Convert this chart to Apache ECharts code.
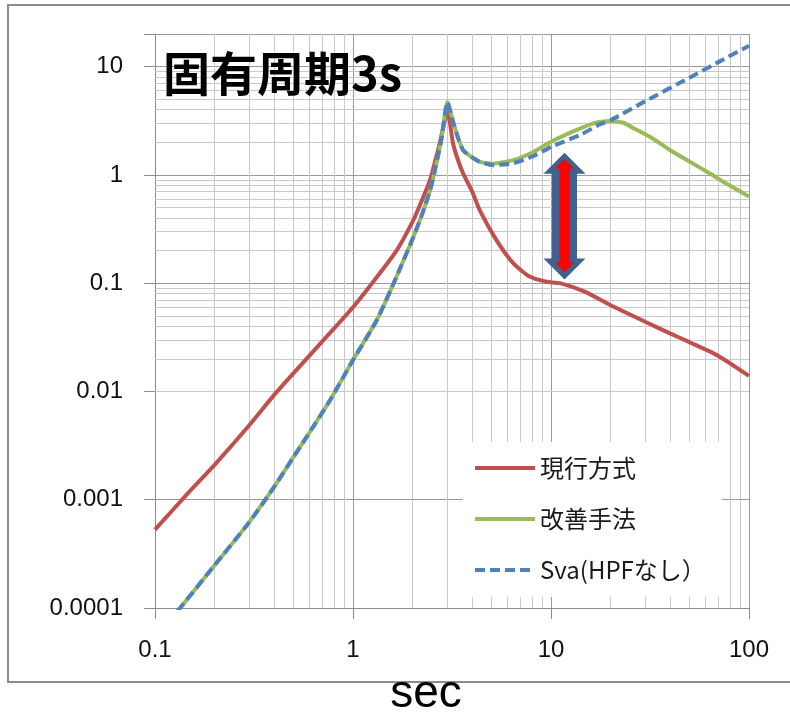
<!DOCTYPE html>
<html>
<head>
<meta charset="utf-8">
<script src="https://cdn.jsdelivr.net/npm/echarts@6/dist/echarts.min.js"></script>
<style>html,body{margin:0;padding:0;background:#fff;}#c{width:790px;height:712px;}</style>
</head>
<body>
<div id="c"></div>
<script>
// ---- data ----
const xTickLabels = ['0.1', '1', '10', '100'];
const yTickLabels = ['0.0001', '0.001', '0.01', '0.1', '1', '10'];
const seriesNames = ['現行方式', '改善手法', 'Sva(HPFなし）'];

const xRed = [0.1, 0.15, 0.2, 0.3, 0.4, 0.5, 0.7, 1, 1.3, 1.66, 2, 2.2, 2.45, 2.7, 2.85, 3.0, 3.2, 3.4, 3.6, 4.0, 4.37, 5.3, 6.46, 7.8, 9.5, 11.1, 14.9, 19.9, 29.9, 39.9, 49.4, 68.7, 100];
const yRed = [5.3e-4, 1.2e-3, 2.1e-3, 4.9e-3, 9.3e-3, 0.0147, 0.029, 0.06, 0.11, 0.2, 0.37, 0.55, 0.9, 1.75, 2.7, 3.9, 1.95, 1.35, 1.03, 0.7, 0.47, 0.25, 0.152, 0.115, 0.103, 0.1, 0.083, 0.0628, 0.044, 0.0344, 0.0288, 0.0217, 0.0139];

const xGreen = [0.13, 0.134, 0.197, 0.296, 0.395, 0.5, 0.583, 0.766, 1, 1.32, 1.66, 2.02, 2.25, 2.45, 2.55, 2.8, 3.0, 3.2, 3.4, 3.6, 4.0, 4.37, 5.1, 6.46, 8, 10, 13.5, 17, 20, 23.2, 25, 31.6, 40, 50.3, 63.5, 74, 100];
const yGreen = [9.3e-5, 1e-4, 2.4e-4, 6.05e-4, 1.27e-3, 2.47e-3, 3.8e-3, 8.3e-3, 0.0195, 0.0457, 0.115, 0.268, 0.45, 0.72, 0.96, 2.17, 4.7, 3.1, 2.17, 1.69, 1.45, 1.32, 1.27, 1.37, 1.6, 2.02, 2.6, 3.05, 3.15, 3.03, 2.82, 2.25, 1.69, 1.32, 1.03, 0.865, 0.63];

const xBlue = [0.13, 0.134, 0.197, 0.296, 0.395, 0.5, 0.583, 0.766, 1, 1.32, 1.66, 2.02, 2.25, 2.45, 2.55, 2.8, 3.0, 3.2, 3.4, 3.6, 4.0, 4.37, 5.1, 6.46, 8, 9.5, 10, 14, 17.7, 20, 30, 50, 70, 100];
const yBlue = [9.3e-5, 1e-4, 2.4e-4, 6.05e-4, 1.27e-3, 2.47e-3, 3.8e-3, 8.3e-3, 0.0195, 0.0457, 0.115, 0.268, 0.45, 0.72, 0.96, 2.17, 4.7, 3.1, 2.17, 1.69, 1.45, 1.32, 1.23, 1.28, 1.47, 1.72, 1.82, 2.33, 2.94, 3.2, 4.8, 7.9, 11, 15.6];

// double arrow annotation: [x, top y, bottom y]
const arrowData = [[11.7, 1.6, 0.108]];

const xDecades = [0.1, 1, 10];
const yDecades = [0.0001, 0.001, 0.01, 0.1, 1];

// ---- build ----
function pairs(xs, ys) { return xs.map((x, i) => [x, ys[i]]); }
function minors(decades) {
  const out = [];
  decades.forEach(d => { for (let k = 2; k <= 9; k++) out.push(+(d * k).toPrecision(6)); });
  return out;
}
const minorLines = minors(xDecades).map(v => ({ xAxis: v }))
  .concat(minors(yDecades).map(v => ({ yAxis: v })));

function fmtFrom(labels, minExp) {
  return function (v) {
    const l = Math.log10(v);
    const e = Math.round(l);
    if (Math.abs(l - e) > 1e-6) return '';
    return labels[e - minExp] || '';
  };
}

const chart = echarts.init(document.getElementById('c'), null, { renderer: 'canvas' });
const labelFont = '"Liberation Sans", Arial, sans-serif';
const jpFont = '"Noto Sans CJK JP", sans-serif';

chart.setOption({
  animation: false,
  backgroundColor: '#fff',
  title: {
    text: '固有周期3s', left: 163, top: 50, padding: 0,
    textStyle: { fontSize: 47, fontWeight: 'bold', fontFamily: jpFont, color: '#000' }
  },
  graphic: [
    { type: 'rect', z: -10, silent: true, shape: { x: 8, y: 5, width: 900, height: 677 },
      style: { fill: 'none', stroke: '#8c8c8c', lineWidth: 2 } },
    { type: 'text', x: 426, y: 694, silent: true,
      style: { text: 'sec', font: '46px "Liberation Sans", Arial, sans-serif', fill: '#000', align: 'center', verticalAlign: 'middle' } }
  ],
  grid: { left: 155, right: 41, top: 34, bottom: 104 },
  legend: {
    data: seriesNames, orient: 'vertical', left: 463, top: 442,
    backgroundColor: '#fff', padding: [12, 16, 13, 10],
    itemWidth: 60, itemHeight: 14, itemGap: 23,
    itemStyle: { opacity: 0 },
    lineStyle: { width: 4 },
    textStyle: { fontSize: 24, fontFamily: jpFont, color: '#1a1a1a', lineHeight: 28 }
  },
  xAxis: {
    type: 'log', logBase: 10, min: 0.1, max: 100,
    axisLine: { show: true, lineStyle: { color: '#8c8c8c', width: 1 } },
    axisTick: { show: true, length: 11, lineStyle: { color: '#8c8c8c' } },
    axisLabel: { margin: 30, fontSize: 24, fontFamily: labelFont, color: '#111', formatter: fmtFrom(xTickLabels, -1) },
    splitLine: { show: true, lineStyle: { color: '#9a9a9a', width: 1 } }
  },
  yAxis: {
    type: 'log', logBase: 10, min: 0.0001, max: 20,
    axisLine: { show: true, lineStyle: { color: '#8c8c8c', width: 1 } },
    axisTick: { show: true, length: 11, lineStyle: { color: '#8c8c8c' } },
    axisLabel: { margin: 32, fontSize: 24, fontFamily: labelFont, color: '#111', formatter: fmtFrom(yTickLabels, -4) },
    splitLine: { show: true, lineStyle: { color: '#9a9a9a', width: 1 } }
  },
  series: [
    {
      name: 'minor-grid', type: 'line', data: [], silent: true,
      markLine: {
        silent: true, z: 1, symbol: ['none', 'none'], animation: false,
        label: { show: false },
        lineStyle: { color: '#c9c9c9', width: 1, type: 'solid' },
        emphasis: { disabled: true },
        data: minorLines
      }
    },
    {
      name: seriesNames[0], type: 'line', data: pairs(xRed, yRed), symbol: 'none', smooth: 0.2, z: 3,
      lineStyle: { color: '#C0504D', width: 4 }, itemStyle: { color: '#C0504D' }
    },
    {
      name: seriesNames[1], type: 'line', data: pairs(xGreen, yGreen), symbol: 'none', smooth: 0.2, z: 3,
      lineStyle: { color: '#9BBB59', width: 4 }, itemStyle: { color: '#9BBB59' }
    },
    {
      name: seriesNames[2], type: 'line', data: pairs(xBlue, yBlue), symbol: 'none', smooth: 0.2, z: 4,
      lineStyle: { color: '#4F81BD', width: 4, type: [10, 5] }, itemStyle: { color: '#4F81BD' }
    },
    {
      name: 'arrow', type: 'custom', data: arrowData, z: 6, silent: true,
      encode: { x: 0, y: [1, 2] },
      renderItem: function (params, api) {
        const top = api.coord([api.value(0), api.value(1)]);
        const bot = api.coord([api.value(0), api.value(2)]);
        const cx = top[0];
        function dbl(t, b, hl, hw, sw) {
          return [[cx, t], [cx + hw, t + hl], [cx + sw, t + hl], [cx + sw, b - hl], [cx + hw, b - hl],
                  [cx, b], [cx - hw, b - hl], [cx - sw, b - hl], [cx - sw, t + hl], [cx - hw, t + hl]];
        }
        return {
          type: 'group',
          children: [
            { type: 'polygon', shape: { points: dbl(top[1], bot[1], 21, 21, 12.5) }, style: { fill: '#41628F' } },
            { type: 'polygon', shape: { points: dbl(top[1] + 6, bot[1] - 7, 10, 9.5, 5) }, style: { fill: '#FF0000' } }
          ]
        };
      }
    }
  ]
});
</script>
</body>
</html>
